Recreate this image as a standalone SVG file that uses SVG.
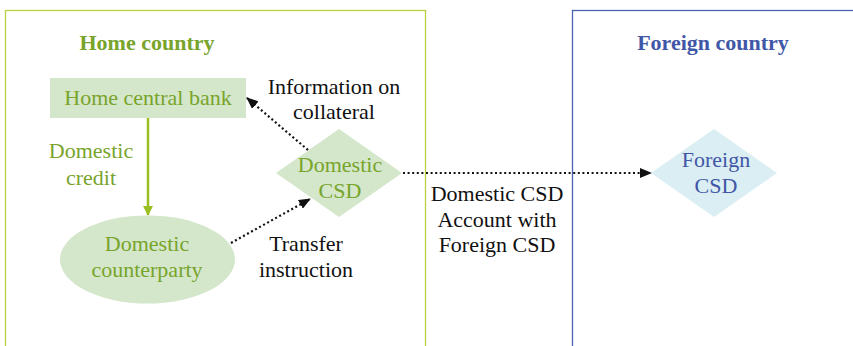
<svg xmlns="http://www.w3.org/2000/svg" width="853" height="346" viewBox="0 0 853 346" font-family="Liberation Serif, DejaVu Serif, serif" font-size="22">
<defs>
<style>
text{text-anchor:middle}
.g{fill:#78a42c}
.b{fill:#3f57a6}
.k{fill:#111}
.h{font-weight:bold}
.dot{fill:none;stroke:#111;stroke-width:2.2;stroke-dasharray:2 2.6}
</style>
<marker id="ak" viewBox="0 0 12 10" refX="11" refY="5" markerWidth="12" markerHeight="10" markerUnits="userSpaceOnUse" orient="auto"><path d="M0,0 L12,5 L0,10 Z" fill="#111"/></marker>
<marker id="ag" viewBox="0 0 10 12" refX="9" refY="5" markerWidth="10" markerHeight="12" markerUnits="userSpaceOnUse" orient="auto"><path d="M0,0 L10,5 L0,10 Z" fill="#9abf22"/></marker>
</defs>
<rect width="853" height="346" fill="#fff"/>
<g id="home-frame">
<rect x="5.5" y="10.5" width="420" height="360" fill="none" stroke="#bccf3c" stroke-width="1.3"/>
<text class="g h" x="147" y="50" font-family="Liberation Serif, serif">Home country</text>
</g>
<g id="foreign-frame">
<rect x="572.5" y="10.5" width="300" height="360" fill="none" stroke="#4b62b3" stroke-width="1.3"/>
<text class="b h" x="713" y="50" font-family="Liberation Serif, serif">Foreign country</text>
</g>
<g id="connectors">
<line x1="148" y1="118" x2="148" y2="215" stroke="#9abf22" stroke-width="2.5" marker-end="url(#ag)"/>
<line class="dot" x1="308" y1="150" x2="247" y2="98" marker-end="url(#ak)"/>
<line class="dot" x1="231" y1="243" x2="310" y2="199" marker-end="url(#ak)"/>
<line class="dot" x1="403" y1="173" x2="651" y2="173" marker-end="url(#ak)"/>
<text class="g" font-family="Liberation Serif, serif"><tspan x="91" y="158">Domestic</tspan><tspan x="91" y="185">credit</tspan></text>
<text class="k" font-family="Liberation Serif, serif"><tspan x="334" y="94">Information on</tspan><tspan x="334" y="119">collateral</tspan></text>
<text class="k" font-family="Liberation Serif, serif"><tspan x="306" y="251">Transfer</tspan><tspan x="306" y="277">instruction</tspan></text>
<text class="k" font-family="Liberation Serif, serif"><tspan x="497" y="201">Domestic CSD</tspan><tspan x="497" y="227">Account with</tspan><tspan x="497" y="252">Foreign CSD</tspan></text>
</g>
<g id="home-central-bank">
<rect x="50" y="78" width="196" height="40" fill="#d4e7ca"/>
<text class="g" x="148" y="105" font-family="Liberation Serif, serif">Home central bank</text>
</g>
<g id="domestic-counterparty">
<ellipse cx="147.5" cy="259.5" rx="87.5" ry="44" fill="#d4e7ca"/>
<text class="g" font-family="Liberation Serif, serif"><tspan x="147" y="251">Domestic</tspan><tspan x="147" y="277">counterparty</tspan></text>
</g>
<g id="domestic-csd">
<polygon points="276,173 339,129 402,173 339,217" fill="#d4e7ca"/>
<text class="g" font-family="Liberation Serif, serif"><tspan x="340" y="172">Domestic</tspan><tspan x="340" y="198">CSD</tspan></text>
</g>
<g id="foreign-csd">
<polygon points="651,173 714,129 777,173 714,217" fill="#daeef3"/>
<text class="b" font-family="Liberation Serif, serif"><tspan x="716" y="167">Foreign</tspan><tspan x="716" y="193">CSD</tspan></text>
</g>
</svg>
